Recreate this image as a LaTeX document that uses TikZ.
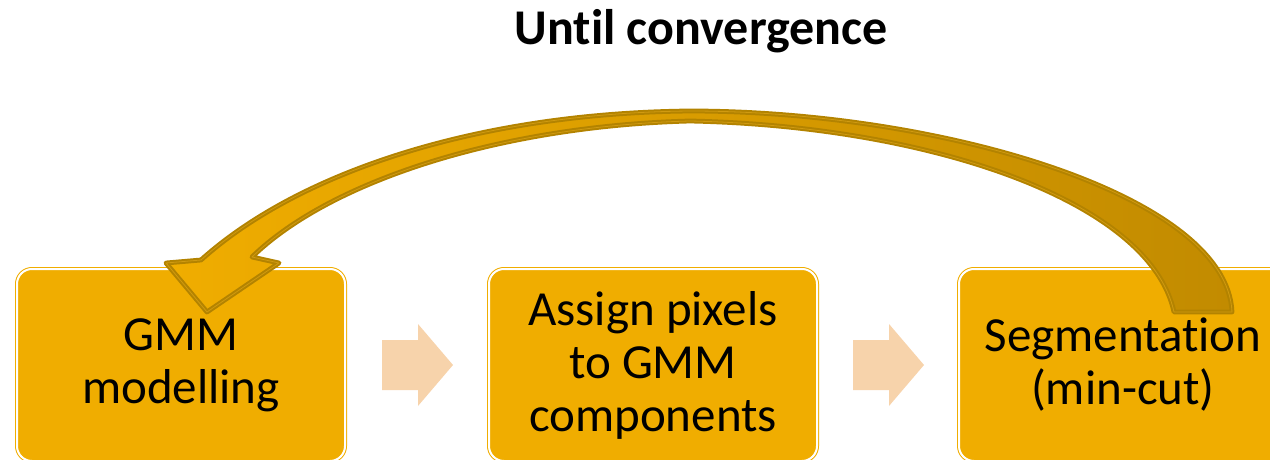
\documentclass[tikz,border=0pt]{standalone}
\usepackage{fontspec}
\setmainfont[Ligatures={NoCommon}]{Carlito}
\usetikzlibrary{calc}
\definecolor{boxfill}{HTML}{F0AD00}
\definecolor{chevcol}{HTML}{F7D3AB}
\definecolor{arrdark}{HTML}{B38300}
\definecolor{arrlight}{HTML}{D09A10}
\definecolor{arrhi}{HTML}{F0AD00}
\definecolor{arrlo}{HTML}{C28B00}
\begin{document}
\begin{tikzpicture}[x=0.5pt,y=-0.5pt,
  stepbox/.style={draw=boxfill, double=white, double distance=1pt, line width=0.5pt,
    fill=boxfill, rounded corners=7.5pt, minimum width=164pt, minimum height=96pt,
    align=center, inner sep=0pt, font=\fontsize{24.5}{26.5}\selectfont},
  chev/.style={fill=chevcol, draw=none},
  titletext/.style={font=\fontsize{25}{30}\selectfont\bfseries, inner sep=0pt},
  loopfill/.style={left color=arrhi, middle color=arrhi!70!arrlo, right color=arrlo},
  loopline/.style={draw=arrdark, line width=2.4pt, line join=round},
  loopinner/.style={draw=arrlight, line width=0.4pt, line join=round}]
\useasboundingbox (0,0) rectangle (1270,460);
\clip (0,0) rectangle (1270,460);

\node[stepbox] (b1) at (181,365) {GMM\\modelling};
\node[stepbox] (b2) at (653,365) {Assign pixels\\to GMM\\components};
\node[stepbox] (b3) at (1123,365) {Segmentation\\(min-cut)};

\coordinate (m1) at ($(b1.east)!0.5!(b2.west)$);
\coordinate (m2) at ($(b2.east)!0.5!(b3.west)$);
\foreach \m in {m1,m2}{
  \fill[chev, shift={(\m)}] (-35,-25) -- (1,-25) -- (1,-41) -- (36,0) -- (1,41) -- (1,25) -- (-35,25) -- cycle;
}

\node[titletext, anchor=base] (title) at (701,45) {Until convergence};

\path[preaction={loopfill}, loopline, postaction={loopinner}]
  (1232,312) .. controls (1227,195) and (940,111) .. (690,111)
  .. controls (480,113) and (300,171) .. (201,260)
  -- (166,263) -- (207,312) -- (279,263) -- (252,257)
  .. controls (330,181) and (500,126) .. (690,121)
  .. controls (930,126) and (1150,201) .. (1174,312) -- cycle;
\end{tikzpicture}
\end{document}
